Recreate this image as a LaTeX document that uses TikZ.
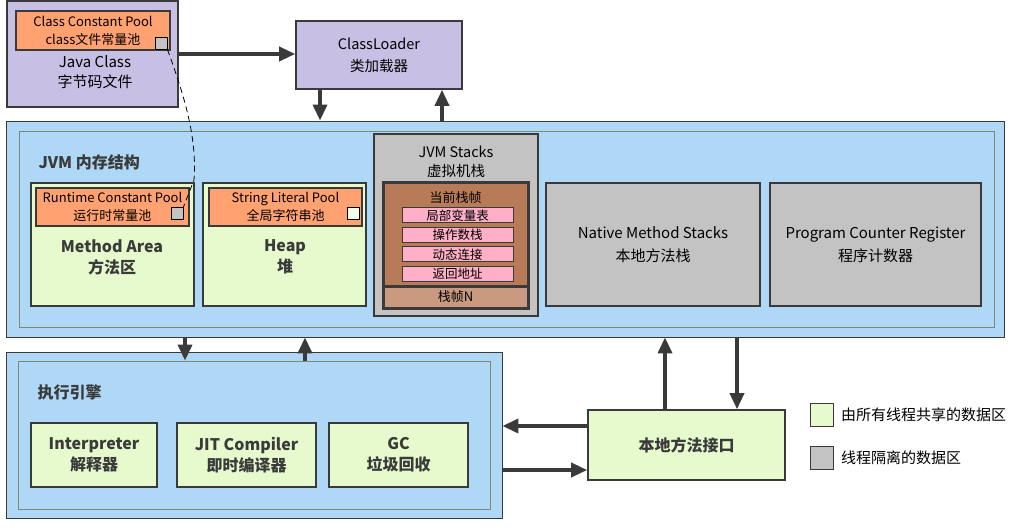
\documentclass[tikz,border=0pt]{standalone}
\usepackage{fontspec}
\usepackage{tikz}
\usetikzlibrary{arrows.meta}
\setmainfont{Noto Sans CJK SC}
\definecolor{lav}{RGB}{200,192,228}
\definecolor{sky}{RGB}{174,216,246}
\definecolor{lgr}{RGB}{230,250,206}
\definecolor{org}{RGB}{255,161,112}
\definecolor{gry}{RGB}{195,195,195}
\definecolor{brn}{RGB}{184,123,87}
\definecolor{lbrn}{RGB}{201,154,128}
\definecolor{pnk}{RGB}{255,176,200}
\definecolor{dk}{RGB}{58,58,58}

\begin{document}
\begin{tikzpicture}[x=1pt,y=-1pt,
	box/.style={draw=dk, line width=1.6pt, inner sep=0pt, align=center},
	shared/.style={box, fill=lgr},
	own/.style={box, fill=gry},
	pool/.style={box, fill=org, minimum width=153pt, minimum height=38pt,
		font=\fontsize{13}{18}\selectfont},
	slot/.style={draw=dk, line width=1pt, fill=pnk, minimum width=111pt,
		minimum height=15pt, inner sep=0pt, font=\fontsize{12.5}{14}\selectfont},
	pin/.style={draw=black, line width=0.8pt, minimum size=12pt, inner sep=0pt},
	frame/.style={draw=#1, line width=0.8pt, fill=sky, inner sep=0pt},
	title/.style={anchor=west, font=\bfseries\fontsize{16}{18}\selectfont, text=dk},
	bold/.style={align=center, font=\bfseries\fontsize{16}{21}\selectfont, text=dk},
	big/.style={-{Triangle[length=16pt,width=14pt]}, line width=3.5pt, draw=dk}]

	\useasboundingbox (0,0) rectangle (1014,529);

	% class file and loader
	\node[box, fill=lav, minimum width=171pt, minimum height=106pt] (javaclass) at (92.5,54) {};
	\node[pool, minimum width=154pt, minimum height=39pt] (ccp) at (93,30.5) {Class Constant Pool\\class文件常量池};
	\node[pin, fill=gry] (ccppin) at (161,43) {};
	\node[align=center, font=\fontsize{15}{20}\selectfont] (jcname) at (95,72) {Java Class\\字节码文件};
	\node[box, fill=lav, minimum width=166pt, minimum height=68pt,
		font=\fontsize{14.5}{22}\selectfont] (loader) at (379,55) {ClassLoader\\类加载器};

	% runtime data areas
	\node[frame=dk, minimum width=998pt, minimum height=216pt] (jvm) at (505,229) {};
	\node[frame=dk!60!lgr, minimum width=975pt, minimum height=196pt] (jvmin) at (506.5,229) {};
	\node[title] (jvmtitle) at (35,162) {JVM 内存结构};

	\node[shared, minimum width=163pt, minimum height=123pt] (method) at (112.5,244.5) {};
	\node[pool] (rcp) at (112.5,207) {Runtime Constant Pool\\运行时常量池};
	\node[pin, fill=gry] (rcppin) at (177,213.5) {};
	\node[bold] (methodname) at (112,257) {Method Area\\方法区};

	\node[shared, minimum width=163pt, minimum height=123pt] (heap) at (284.5,244.5) {};
	\node[pool] (slp) at (285.5,207) {String Literal Pool\\全局字符串池};
	\node[pin, fill=lgr!50!white] (slppin) at (353,213.5) {};
	\node[bold] (heapname) at (285,257) {Heap\\堆};

	\node[own, minimum width=164pt, minimum height=182pt] (stacks) at (456,225) {};
	\node[align=center, font=\fontsize{14.5}{19}\selectfont] (stacksname) at (456,161.5) {JVM Stacks\\虚拟机栈};
	\node[draw=dk, line width=3pt, fill=brn, minimum width=145pt, minimum height=125pt,
		inner sep=0pt] (curframe) at (455.5,245.5) {};
	\node[font=\fontsize{13}{14}\selectfont] (curname) at (455.5,198) {当前栈帧};
	\foreach \y/\t [count=\i] in {215.5/局部变量表, 235/操作数栈, 254.5/动态连接, 274/返回地址}
		\node[slot] (slot\i) at (457.5,\y) {\t};
	\node[draw=dk, line width=3pt, fill=lbrn, minimum width=145pt, minimum height=22pt,
		inner sep=0pt, font=\fontsize{13}{14}\selectfont] (frameN) at (455.5,297) {栈帧N};

	\node[own, minimum width=214pt, minimum height=123pt,
		font=\fontsize{15}{23}\selectfont] (nstacks) at (653,244.5) {Native Method Stacks\\本地方法栈};
	\node[own, minimum width=211pt, minimum height=123pt,
		font=\fontsize{15}{23}\selectfont] (pcr) at (875.5,244.5) {Program Counter Register\\程序计数器};

	% execution engine
	\node[frame=dk, minimum width=496pt, minimum height=166pt] (exec) at (254,435) {};
	\node[frame=dk!60!lgr, minimum width=472pt, minimum height=148pt] (execin) at (254,435) {};
	\node[title] (exectitle) at (34,392) {执行引擎};
	\node[shared, bold, minimum width=126pt, minimum height=64pt] (interp) at (94,455) {Interpreter\\解释器};
	\node[shared, bold, minimum width=139pt, minimum height=64pt] (jit) at (246.5,455) {JIT Compiler\\即时编译器};
	\node[shared, bold, minimum width=139pt, minimum height=64pt] (gc) at (398.5,455) {GC\\垃圾回收};

	\node[shared, minimum width=197pt, minimum height=70pt,
		font=\bfseries\fontsize{16}{18}\selectfont, text=dk] (jni) at (686.5,445) {本地方法接口};

	% legend
	\node[shared, line width=1pt, minimum size=23pt] (keyshared) at (821.5,414.5) {};
	\node[anchor=west, font=\fontsize{15}{16}\selectfont] (keysharedtxt) at ([xshift=4pt]keyshared.east) {由所有线程共享的数据区};
	\node[own, line width=1pt, minimum size=23pt] (keyown) at (821.5,457.5) {};
	\node[anchor=west, font=\fontsize{15}{16}\selectfont] (keyowntxt) at ([xshift=4pt]keyown.east) {线程隔离的数据区};

	% arrows
	\path ([xshift=-59pt]loader.south) coordinate (ldown)
		([xshift=63pt]loader.south) coordinate (lup)
		([xshift=-69pt]exec.north) coordinate (edown)
		([xshift=51pt]exec.north) coordinate (eup)
		([xshift=-21.5pt]jni.north) coordinate (nup)
		([xshift=50.5pt]jni.north) coordinate (ndown)
		([yshift=19pt]jni.west) coordinate (jleft)
		([yshift=-25pt]jni.west) coordinate (jright);
	\draw[big] (javaclass.east) -- (javaclass.east -| loader.west);
	\draw[big] (ldown) -- (ldown |- jvm.north);
	\draw[big] (lup |- jvm.north) -- (lup);
	\draw[big] (edown |- jvm.south) -- (edown |- execin.north);
	\draw[big] (eup |- execin.north) -- (eup |- jvm.south);
	\draw[big] (nup) -- (nup |- jvm.south);
	\draw[big] (ndown |- jvm.south) -- (ndown);
	\draw[big] (jleft) -- (jleft -| exec.east);
	\draw[big] (jright -| exec.east) -- (jright);

	% constant pool link
	\draw[black, line width=0.8pt, dash pattern=on 6pt off 4pt] (ccppin.south east)
		.. controls (186,100) and (197,140) .. (194,180) -- (rcppin.north east);
\end{tikzpicture}
\end{document}
